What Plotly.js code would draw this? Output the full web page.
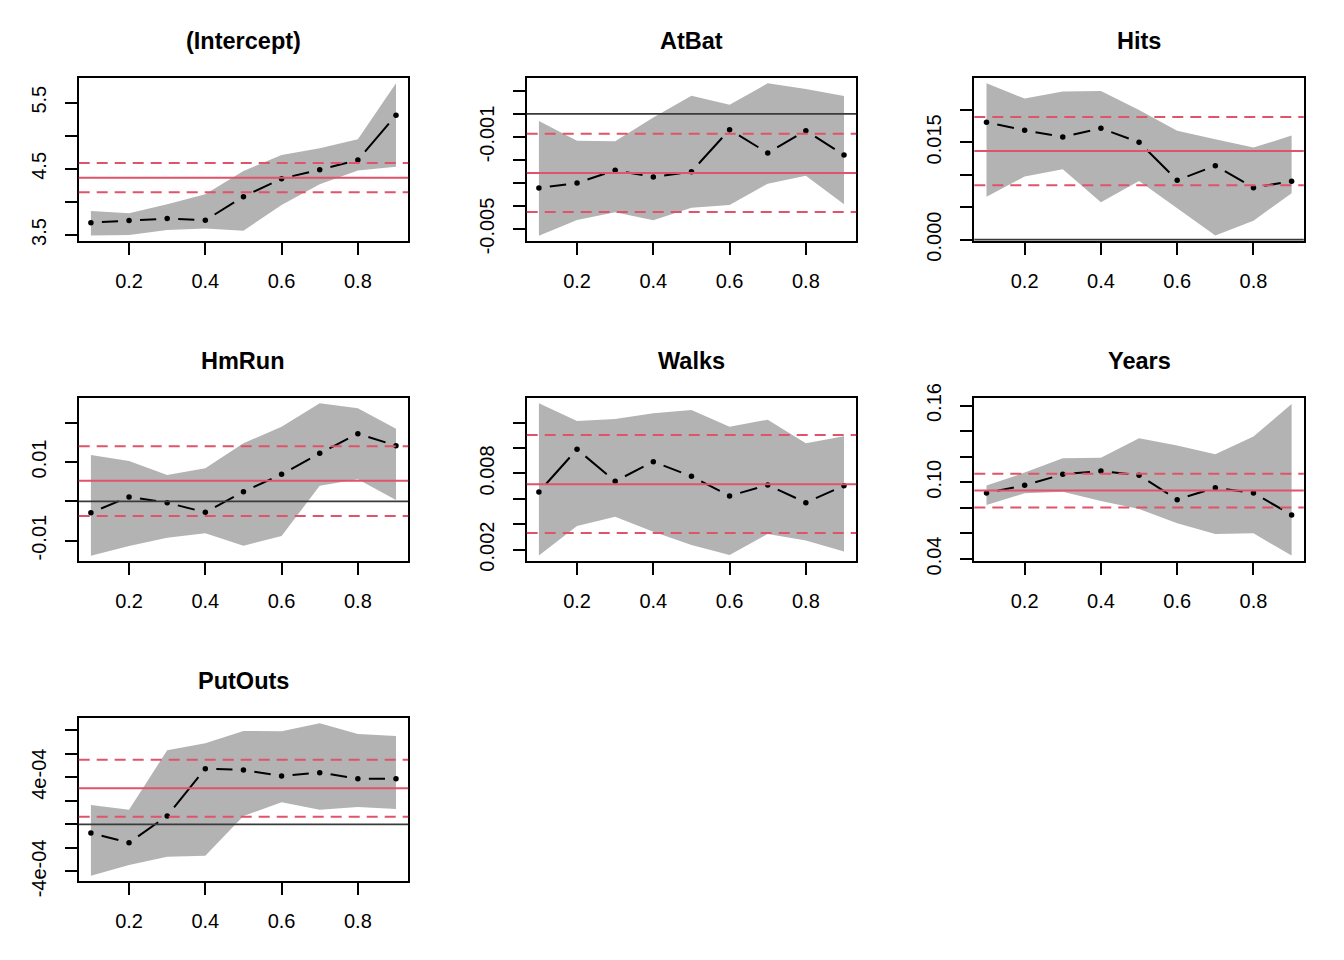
<!DOCTYPE html>
<html><head><meta charset="utf-8">
<script src="https://cdn.plot.ly/plotly-3.0.1.min.js"></script>
<style>html,body{margin:0;padding:0;background:#fff}#chart{width:1344px;height:960px}</style>
</head><body><div id="chart"></div>
<script>
// ---------- data ----------
const taus = [0.1, 0.2, 0.3, 0.4, 0.5, 0.6, 0.7, 0.8, 0.9];
const panelNames = ["(Intercept)", "AtBat", "Hits", "HmRun", "Walks", "Years", "PutOuts"];
const xTickVals = [0.2, 0.4, 0.6, 0.8];
const xTickText = ["0.2", "0.4", "0.6", "0.8"];

// (Intercept)
const interceptCoef  = [3.687, 3.718, 3.748, 3.722, 4.080, 4.352, 4.488, 4.634, 5.309];
const interceptUpper = [3.864, 3.828, 3.964, 4.115, 4.468, 4.710, 4.810, 4.946, 5.792];
const interceptLower = [3.491, 3.501, 3.577, 3.597, 3.566, 3.954, 4.266, 4.473, 4.533];
const interceptOls   = [4.367, 4.146, 4.589];  // estimate, lower, upper
const interceptYTicks  = [3.5, 4.0, 4.5, 5.0, 5.5];
const interceptYLabels = ["3.5", "", "4.5", "", "5.5"];
const interceptYRange  = [3.405, 5.868];

// AtBat
const atBatCoef  = [-0.003217, -0.003000, -0.002449, -0.002739, -0.002507, -0.000681, -0.001696, -0.000725, -0.001783];
const atBatUpper = [-0.000304, -0.001159, -0.001188, -0.000150, 0.000797, 0.000406, 0.001333, 0.001087, 0.000783];
const atBatLower = [-0.005290, -0.004609, -0.004275, -0.004623, -0.004072, -0.003957, -0.003029, -0.002681, -0.003928];
const atBatOls   = [-0.002565, -0.004261, -0.000855];
const atBatYTicks  = [-0.005, -0.004, -0.003, -0.002, -0.001, 0, 0.001];
const atBatYLabels = ["-0.005", "", "", "", "-0.001", "", ""];
const atBatYRange  = [-0.005536, 0.001551];

// Hits
const hitsCoef  = [0.01810, 0.01686, 0.01583, 0.01717, 0.01501, 0.00915, 0.01141, 0.00802, 0.00900];
const hitsUpper = [0.02411, 0.02175, 0.02283, 0.02293, 0.02000, 0.01681, 0.01547, 0.01419, 0.01604];
const hitsLower = [0.00663, 0.00972, 0.01085, 0.00576, 0.00905, 0.00483, 0.00062, 0.00293, 0.00715];
const hitsOls   = [0.01367, 0.00838, 0.01892];
const hitsYTicks  = [0, 0.005, 0.010, 0.015, 0.020];
const hitsYLabels = ["0.000", "", "", "0.015", ""];
const hitsYRange  = [-0.000257, 0.02488];

// HmRun
const hmRunCoef  = [-0.00288, 0.00110, -0.00034, -0.00280, 0.00246, 0.00686, 0.01220, 0.01720, 0.01415];
const hmRunUpper = [0.01178, 0.01025, 0.00669, 0.00839, 0.01475, 0.01898, 0.02492, 0.02364, 0.01847];
const hmRunLower = [-0.01381, -0.01136, -0.00924, -0.00814, -0.01127, -0.00881, 0.00398, 0.00559, 0.00034];
const hmRunOls   = [0.00525, -0.00373, 0.01398];
const hmRunYTicks  = [-0.01, 0, 0.01, 0.02];
const hmRunYLabels = ["-0.01", "", "0.01", ""];
const hmRunYRange  = [-0.01525, 0.02619];

// Walks
const walksCoef  = [0.006541, 0.009900, 0.007381, 0.008929, 0.007774, 0.006226, 0.007092, 0.005701, 0.007039];
const walksUpper = [0.013522, 0.012131, 0.012289, 0.012735, 0.012997, 0.011685, 0.012236, 0.010373, 0.010924];
const walksLower = [0.001528, 0.003864, 0.004598, 0.003417, 0.002367, 0.001580, 0.003234, 0.002709, 0.001843];
const walksOls   = [0.007144, 0.003312, 0.011029];
const walksYTicks  = [0.002, 0.004, 0.006, 0.008, 0.010, 0.012];
const walksYLabels = ["0.002", "", "", "0.008", "", ""];
const walksYRange  = [0.001081, 0.013916];

// Years
const yearsCoef  = [0.09163, 0.09763, 0.10623, 0.10884, 0.10545, 0.08641, 0.09580, 0.09163, 0.07442];
const yearsUpper = [0.09737, 0.10754, 0.11875, 0.11927, 0.13440, 0.12866, 0.12188, 0.13570, 0.16125];
const yearsLower = [0.08224, 0.09137, 0.09267, 0.08537, 0.07911, 0.06790, 0.05956, 0.06008, 0.04261];
const yearsOls   = [0.09346, 0.08016, 0.10675];
const yearsYTicks  = [0.04, 0.06, 0.08, 0.10, 0.12, 0.14, 0.16];
const yearsYLabels = ["0.04", "", "", "0.10", "", "", "0.16"];
const yearsYRange  = [0.03817, 0.16568];

// PutOuts
const putOutsCoef  = [-7.36e-5, -1.556e-4, 7.07e-5, 4.724e-4, 4.611e-4, 4.102e-4, 4.385e-4, 3.876e-4, 3.876e-4];
const putOutsUpper = [1.641e-4, 1.245e-4, 6.280e-4, 6.874e-4, 7.921e-4, 7.892e-4, 8.571e-4, 7.666e-4, 7.496e-4];
const putOutsLower = [-4.356e-4, -3.451e-4, -2.744e-4, -2.659e-4, 7.07e-5, 1.867e-4, 1.245e-4, 1.471e-4, 1.301e-4];
const putOutsOls   = [3.055e-4, 6.51e-5, 5.488e-4];
const putOutsYTicks  = [-4e-4, -2e-4, 0, 2e-4, 4e-4, 6e-4, 8e-4];
const putOutsYLabels = ["-4e-04", "", "", "", "4e-04", "", ""];
const putOutsYRange  = [-4.837e-4, 8.996e-4];

// ---------- build ----------
const panels = [
  {coef: interceptCoef, upper: interceptUpper, lower: interceptLower, ols: interceptOls, ticks: interceptYTicks, labels: interceptYLabels, range: interceptYRange},
  {coef: atBatCoef, upper: atBatUpper, lower: atBatLower, ols: atBatOls, ticks: atBatYTicks, labels: atBatYLabels, range: atBatYRange},
  {coef: hitsCoef, upper: hitsUpper, lower: hitsLower, ols: hitsOls, ticks: hitsYTicks, labels: hitsYLabels, range: hitsYRange},
  {coef: hmRunCoef, upper: hmRunUpper, lower: hmRunLower, ols: hmRunOls, ticks: hmRunYTicks, labels: hmRunYLabels, range: hmRunYRange},
  {coef: walksCoef, upper: walksUpper, lower: walksLower, ols: walksOls, ticks: walksYTicks, labels: walksYLabels, range: walksYRange},
  {coef: yearsCoef, upper: yearsUpper, lower: yearsLower, ols: yearsOls, ticks: yearsYTicks, labels: yearsYLabels, range: yearsYRange},
  {coef: putOutsCoef, upper: putOutsUpper, lower: putOutsLower, ols: putOutsOls, ticks: putOutsYTicks, labels: putOutsYLabels, range: putOutsYRange}
];

const W = 1344, H = 960;
const colLeft = [78.7, 526.7, 974.3];
const panelW = 329.5;
const rowTop = [78.3, 398.3, 718.3];
const panelH = 163;
const xRange = [0.068, 0.932];
const FONT = "Liberation Sans, Arial, Helvetica, sans-serif";
const RED = "#DF536B";
const GRAY = "#B3B3B3";
const GAP = 11;

const data = [];
const shapes = [];
const annotations = [];
const layout = {
  width: W, height: H,
  margin: {l: 0, r: 0, t: 0, b: 0},
  paper_bgcolor: "#fff", plot_bgcolor: "#fff",
  showlegend: false,
  font: {family: FONT, color: "#000"}
};

panels.forEach((p, i) => {
  const n = i + 1;
  const xa = "x" + n, ya = "y" + n;
  const row = Math.floor(i / 3), col = i % 3;
  const x0 = colLeft[col], y0 = rowTop[row];

  layout["xaxis" + n] = {
    domain: [x0 / W, (x0 + panelW) / W],
    range: xRange, anchor: ya, fixedrange: true,
    tickmode: "array", tickvals: xTickVals, ticktext: xTickText,
    ticks: "outside", ticklen: 12, tickwidth: 2, tickcolor: "#000",
    showline: true, linewidth: 2, linecolor: "#000", mirror: true,
    showgrid: false, zeroline: false,
    tickfont: {family: FONT, size: 20, color: "#000"},
    ticklabelstandoff: 9
  };
  layout["yaxis" + n] = {
    domain: [1 - (y0 + panelH) / H, 1 - y0 / H],
    range: p.range, anchor: xa, fixedrange: true,
    tickmode: "array", tickvals: p.ticks, ticktext: p.labels,
    ticks: "outside", ticklen: 12, tickwidth: 2, tickcolor: "#000",
    showline: true, linewidth: 2, linecolor: "#000", mirror: true,
    showgrid: false, zeroline: false, tickangle: -90,
    tickfont: {family: FONT, size: 20, color: "#000"},
    ticklabelstandoff: 11
  };

  // confidence band
  data.push({
    type: "scatter", mode: "lines", xaxis: xa, yaxis: ya,
    x: taus.concat(taus.slice().reverse()),
    y: p.upper.concat(p.lower.slice().reverse()),
    fill: "toself", fillcolor: GRAY, line: {width: 0, color: GRAY},
    hoverinfo: "skip"
  });

  // type="b" line: segments with gaps around points
  const pxX = panelW / (xRange[1] - xRange[0]);
  const pxY = panelH / (p.range[1] - p.range[0]);
  for (let k = 0; k < taus.length - 1; k++) {
    const dx = (taus[k + 1] - taus[k]) * pxX;
    const dy = (p.coef[k + 1] - p.coef[k]) * pxY;
    const L = Math.sqrt(dx * dx + dy * dy);
    const vis = L - 2 * GAP;
    if (vis <= 0) continue;
    data.push({
      type: "scatter", mode: "lines", xaxis: xa, yaxis: ya,
      x: [taus[k], taus[k + 1]], y: [p.coef[k], p.coef[k + 1]],
      line: {color: "#000", width: 2, dash: `0px,${GAP}px,${vis.toFixed(2)}px,${(L + 50).toFixed(1)}px`},
      hoverinfo: "skip"
    });
  }
  data.push({
    type: "scatter", mode: "markers", xaxis: xa, yaxis: ya,
    x: taus, y: p.coef,
    marker: {color: "#000", size: 5.5, line: {width: 0}}
  });

  // zero line (if visible)
  if (p.range[0] < 0 && p.range[1] > 0) {
    shapes.push({type: "line", xref: xa + " domain", yref: ya, x0: 0, x1: 1, y0: 0, y1: 0,
      line: {color: "#3a3a3a", width: 1.8}});
  }
  // OLS estimate and CI
  shapes.push({type: "line", xref: xa + " domain", yref: ya, x0: 0, x1: 1, y0: p.ols[0], y1: p.ols[0],
    line: {color: RED, width: 2}});
  [p.ols[1], p.ols[2]].forEach(v => {
    shapes.push({type: "line", xref: xa + " domain", yref: ya, x0: 0, x1: 1, y0: v, y1: v,
      line: {color: RED, width: 2, dash: "11px,7px"}});
  });

  annotations.push({
    text: "<b>" + panelNames[i] + "</b>", showarrow: false,
    xref: "paper", yref: "paper",
    x: (x0 + panelW / 2) / W, y: 1 - (y0 - 37) / H,
    xanchor: "center", yanchor: "middle",
    font: {family: FONT, size: 23.5, color: "#000"}
  });
});

layout.shapes = shapes;
layout.annotations = annotations;

Plotly.newPlot("chart", data, layout, {staticPlot: true, displayModeBar: false});
</script>
</body></html>
